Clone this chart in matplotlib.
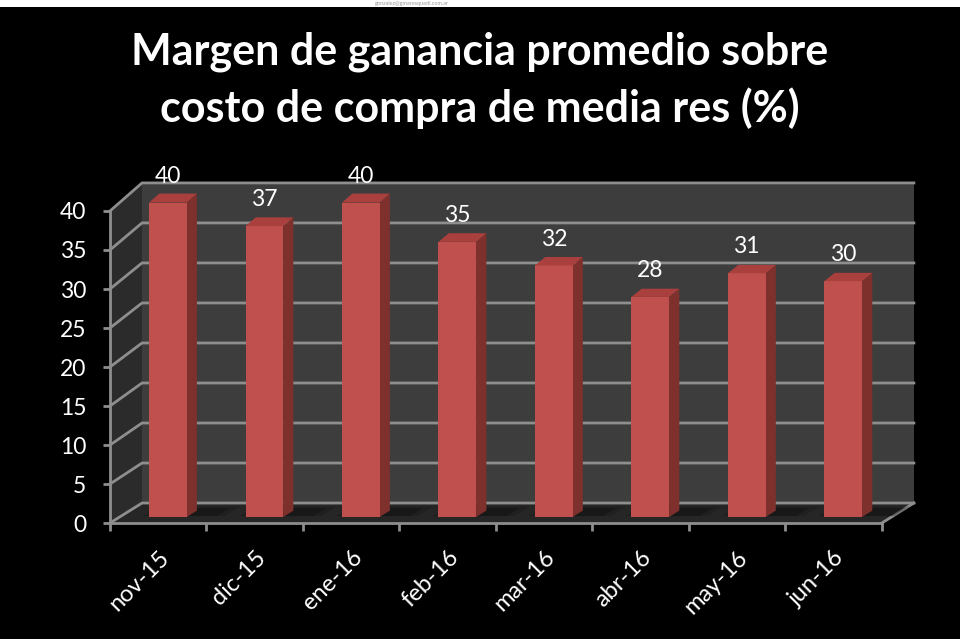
import numpy as np
import matplotlib.pyplot as plt
from matplotlib.patches import Polygon, Rectangle

plt.rcParams['font.family'] = ['Lato', 'DejaVu Sans']

# datos
categories = ['nov-15', 'dic-15', 'ene-16', 'feb-16', 'mar-16', 'abr-16', 'may-16', 'jun-16']
values = [40, 37, 40, 35, 32, 28, 31, 30]
yticks = [0, 5, 10, 15, 20, 25, 30, 35, 40]
title_lines = ['Margen de ganancia promedio sobre', 'costo de compra de media res (%)']

# pseudo 3D
DX, DY, K = 0.332, 2.56, 0.026   # profundidad en unidades de datos, escala trasera
T0, T1, W = 0.30, 0.62, 0.39     # posicion de las barras en profundidad y ancho

n = len(categories)
ymax = yticks[-1]


def proj(x, v, t):
    return (x + t * DX, v * (1 + t * K) + t * DY)


fig = plt.figure(figsize=(9.6, 6.39), dpi=100, facecolor='black')
ax = fig.add_axes([0, 0, 1, 1])
ax.set_facecolor('black')
ax.set_xlim(-1.14, 8.81)
ax.set_ylim(-14.87, 67.05)

# paredes y piso
side = [proj(0, 0, 0), proj(0, 0, 1), proj(0, ymax, 1), proj(0, ymax, 0)]
back = [proj(0, 0, 1), proj(n, 0, 1), proj(n, ymax, 1), proj(0, ymax, 1)]
floor = [proj(0, 0, 0), proj(n, 0, 0), proj(n, 0, 1), proj(0, 0, 1)]
ax.add_patch(Polygon(side, closed=True, fc='#2b2b2b', ec='none', zorder=1))
ax.add_patch(Polygon(back, closed=True, fc='#3d3d3d', ec='none', zorder=1))
ax.add_patch(Polygon(floor, closed=True, fc='#262626', ec='none', zorder=1))

grid_c = '#8e8e8e'
for v in yticks:
    p0, p1, p2 = proj(0, v, 0), proj(0, v, 1), proj(n, v, 1)
    ax.plot([p0[0], p1[0], p2[0]], [p0[1], p1[1], p2[1]], color=grid_c, lw=2, zorder=2)
f0, f1 = proj(n, 0, 0), proj(n, 0, 1)
ax.plot([f0[0], f1[0]], [f0[1], f1[1]], color=grid_c, lw=2, zorder=2)

# sombras suaves en el piso
for i, val in enumerate(values):
    sx = i + 0.5 - W / 2
    for grow, a in [(0.0, 0.35), (0.08, 0.2)]:
        sh = [proj(sx - grow, 0, T0 + 0.05), proj(sx + W + 0.3 + grow, 0, T0 + 0.05),
              proj(sx + W + 0.3 + grow, 0, T1 + 0.12 + grow), proj(sx - grow, 0, T1 + 0.12 + grow)]
        ax.add_patch(Polygon(sh, closed=True, fc='#0a0a0a', ec='none', alpha=a, zorder=2))

# barras: cara frontal
centers = np.arange(n) + 0.5
heights = np.array(values) * (1 + T0 * K)
ax.bar(centers + T0 * DX, heights, width=W, bottom=T0 * DY,
       color='#c0504d', edgecolor='none', zorder=4)

for i, val in enumerate(values):
    x0, x1 = i + 0.5 - W / 2, i + 0.5 + W / 2
    right = [proj(x1, 0, T0), proj(x1, 0, T1), proj(x1, val, T1), proj(x1, val, T0)]
    top = [proj(x0, val, T0), proj(x1, val, T0), proj(x1, val, T1), proj(x0, val, T1)]
    ax.add_patch(Polygon(right, closed=True, fc='#7e302d', ec='none', zorder=3))
    ax.add_patch(Polygon(top, closed=True, fc='#a9403d', ec='none', zorder=5))
    lx, ly = proj(i + 0.5, val, T0)
    ax.annotate(str(val), (lx, ly), xytext=(0, 19), textcoords='offset points',
                ha='center', va='center', color='white', fontsize=16.5, zorder=6)

# ejes
for s in ['top', 'right']:
    ax.spines[s].set_visible(False)
ax.spines['left'].set_position(('data', 0))
ax.spines['left'].set_bounds(0, ymax)
ax.spines['bottom'].set_position(('data', 0))
ax.spines['bottom'].set_bounds(0, n)
for s in ['left', 'bottom']:
    ax.spines[s].set_color(grid_c)
    ax.spines[s].set_linewidth(2)
    ax.spines[s].set_zorder(3)

ax.set_yticks(yticks)
ax.set_yticklabels([str(v) for v in yticks])
ax.tick_params(axis='y', colors=grid_c, labelcolor='white', labelsize=16.5,
               length=5, width=2, pad=12)
ax.set_xticks(np.arange(n + 1))
ax.set_xticklabels([])
ax.set_xticks(centers, minor=True)
ax.set_xticklabels(categories, minor=True)
ax.tick_params(axis='x', which='major', colors=grid_c, length=6, width=2)
ax.tick_params(axis='x', which='minor', length=0, labelcolor='white', labelsize=17, pad=17)
plt.setp(ax.get_xticklabels(minor=True), rotation=45, ha='right', va='top',
         rotation_mode='anchor')

# titulo
fig.text(0.5, 1 - 65 / 639, title_lines[0], ha='center', va='baseline',
         color='white', fontsize=31, fontweight='bold')
fig.text(0.5, 1 - 122 / 639, title_lines[1], ha='center', va='baseline',
         color='white', fontsize=31, fontweight='bold')

# franja blanca superior (recorte de la imagen)
fig.patches.append(Rectangle((0, 1 - 7 / 639), 1, 7 / 639, transform=fig.transFigure,
                             fc='white', ec='none'))
fig.text(375 / 960, 1 - 3 / 639, 'gonzalez@gmaresquedi.com.ar', ha='left', va='center',
         color='#9a9a9a', fontsize=4)

fig.savefig('out.png', dpi=100, facecolor='black')
